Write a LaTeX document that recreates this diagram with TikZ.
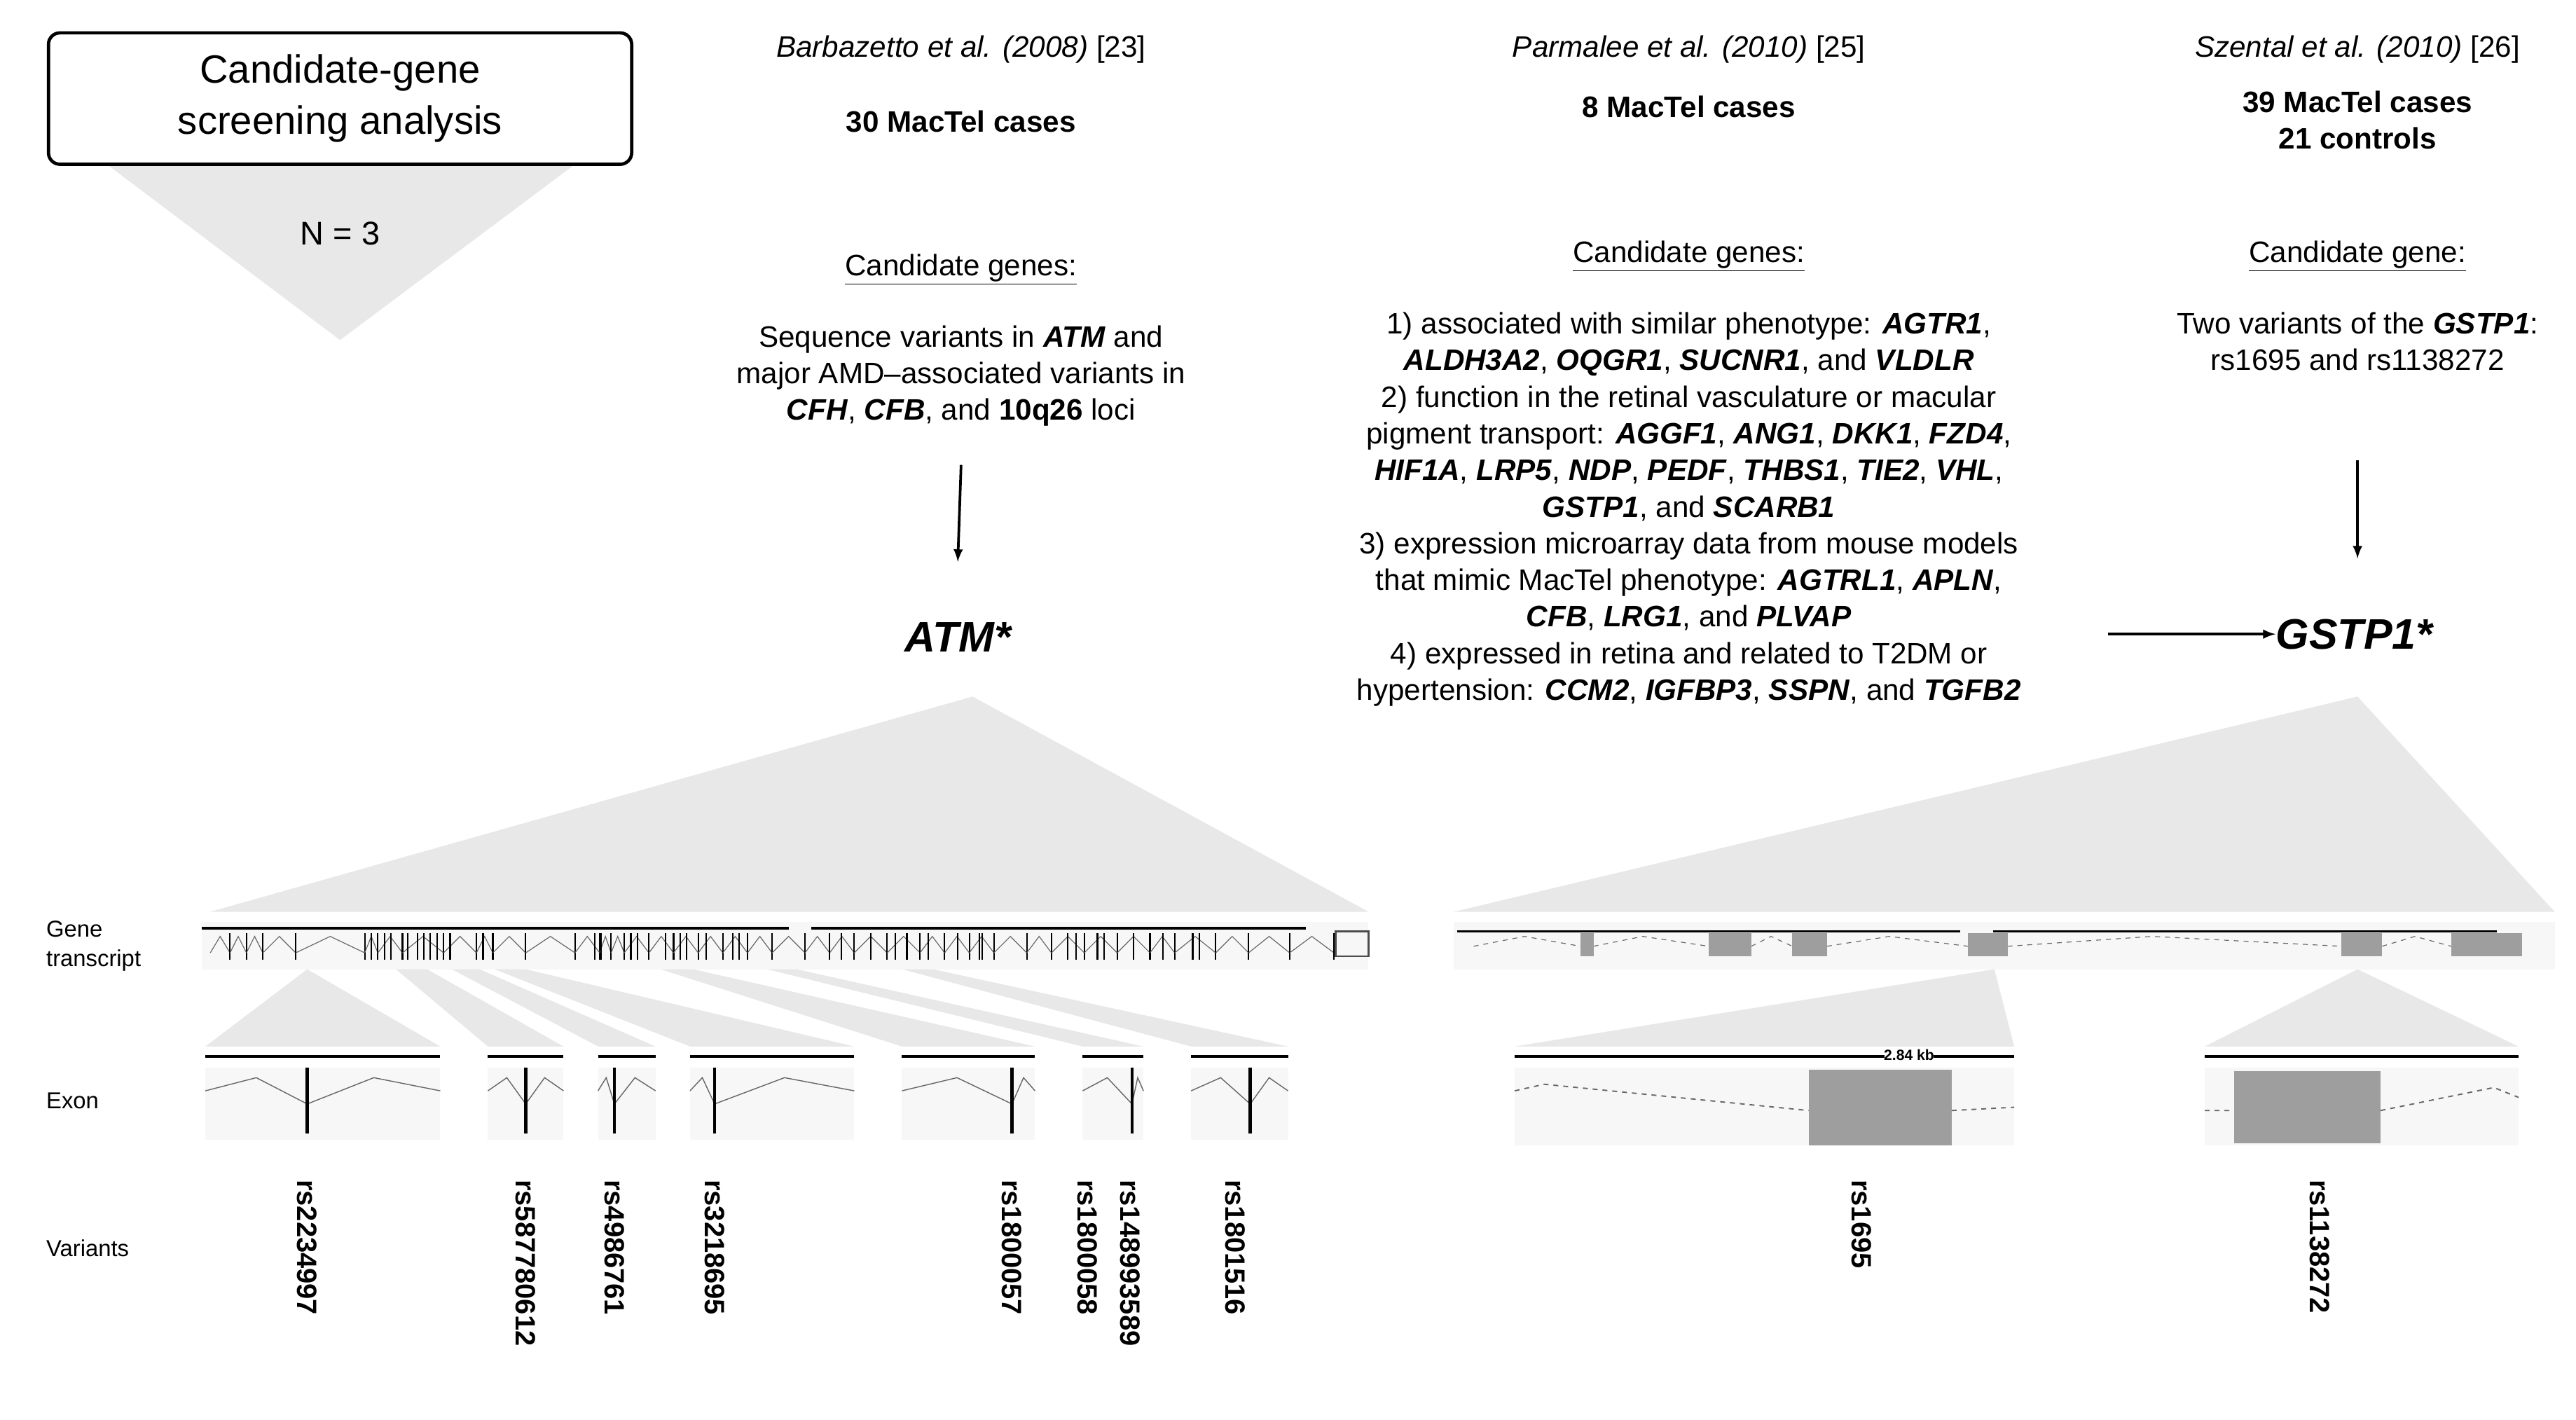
\documentclass[tikz,border=0pt]{standalone}
\usepackage{fontspec}
\setmainfont{Liberation Sans}
\begin{document}
\begin{tikzpicture}[x=1pt,y=-1pt,
  txt/.style={font=\fontsize{18}{22.3}\selectfont,align=center,inner sep=0},
  hdr/.style={font=\fontsize{18}{22}\selectfont\itshape,inner sep=0},
  gene/.style={font=\fontsize{26}{30}\selectfont\bfseries\itshape,inner sep=0},
  lab/.style={font=\fontsize{14}{18}\selectfont,align=left,anchor=west,inner sep=0},
  var/.style={font=\fontsize{17}{20}\selectfont\bfseries,rotate=-90,anchor=west,inner sep=0},
  fan/.style={fill=black!9,draw=none},
  panel/.style={fill=black!3,draw=none},
  exbox/.style={fill=black!38,draw=none},
  arr/.style={-latex,line width=1.6pt}]
\useasboundingbox (0,0) rectangle (1568,864);
% left header
\fill[black!9] (65,100) -- (350,100) -- (207,207) -- cycle;
\node[draw,line width=2pt,rounded corners=7pt,minimum width=355,minimum height=80,align=center,font=\fontsize{24}{31}\selectfont] (box) at (207,60) {Candidate-gene\\screening analysis};
\node[font=\fontsize{20}{24}\selectfont] (n) at (207,142) {N = 3};
% Barbazetto
\node[hdr] (b1) at (585,30) {Barbazetto et al. (2008)\upshape{} [23]};
\node[txt,font=\fontsize{18}{22}\selectfont\bfseries] (b2) at (585,74) {30 MacTel cases};
\node[txt] (b3) at (585,164) {\underline{Candidate genes:}};
\node[txt,anchor=north] (b4) at (585,198) {Sequence variants in \textbf{\textit{ATM}} and\\major AMD--associated variants in\\\textbf{\textit{CFH}}, \textbf{\textit{CFB}}, and \textbf{10q26} loci};
\node[gene] (atm) at (583,388) {ATM*};
\draw[arr] (585,283) -- (atm.north |- 0,342);
% Parmalee
\node[hdr] (p1) at (1028,30) {Parmalee et al. (2010)\upshape{} [25]};
\node[txt,font=\fontsize{18}{22}\selectfont\bfseries] (p2) at (1028,65) {8 MacTel cases};
\node[txt] (p3) at (1028,156) {\underline{Candidate genes:}};
\node[txt,anchor=north] (p4) at (1028,190) {1) associated with similar phenotype: \textbf{\textit{AGTR1}},\\
\textbf{\textit{ALDH3A2}}, \textbf{\textit{OQGR1}}, \textbf{\textit{SUCNR1}}, and \textbf{\textit{VLDLR}}\\
2) function in the retinal vasculature or macular\\
pigment transport: \textbf{\textit{AGGF1}}, \textbf{\textit{ANG1}}, \textbf{\textit{DKK1}}, \textbf{\textit{FZD4}},\\
\textbf{\textit{HIF1A}}, \textbf{\textit{LRP5}}, \textbf{\textit{NDP}}, \textbf{\textit{PEDF}}, \textbf{\textit{THBS1}}, \textbf{\textit{TIE2}}, \textbf{\textit{VHL}},\\
\textbf{\textit{GSTP1}}, and \textbf{\textit{SCARB1}}\\
3) expression microarray data from mouse models\\
that mimic MacTel phenotype: \textbf{\textit{AGTRL1}}, \textbf{\textit{APLN}},\\
\textbf{\textit{CFB}}, \textbf{\textit{LRG1}}, and \textbf{\textit{PLVAP}}\\
4) expressed in retina and related to T2DM or\\
hypertension: \textbf{\textit{CCM2}}, \textbf{\textit{IGFBP3}}, \textbf{\textit{SSPN}}, and \textbf{\textit{TGFB2}}};
% Szental
\node[hdr] (s1) at (1435,30) {Szental et al. (2010)\upshape{} [26]};
\node[txt,font=\fontsize{18}{22.5}\selectfont\bfseries,anchor=north] (s2) at (1435,55) {39 MacTel cases\\21 controls};
\node[txt] (s3) at (1435,156) {\underline{Candidate gene:}};
\node[txt,anchor=north] (s4) at (1435,190) {Two variants of the \textbf{\textit{GSTP1}}:\\rs1695 and rs1138272};
\node[gene] (gst) at (1433,386) {GSTP1*};
\coordinate (hs) at (1283,386);
\draw[arr] (1435,280) -- (1435,340);
\draw[arr] (hs) -- (gst.west);
% big fans
\fill[black!9] (592,424) -- (833,555) -- (128,555) -- cycle;
\fill[black!9] (1435,424) -- (1555,555) -- (885,555) -- cycle;
% labels
\node[lab] (gt) at (28,576) {Gene\\transcript};
\node[lab] (ex) at (28,670) {Exon};
\node[lab] (va) at (28,760) {Variants};
% ATM transcript
\fill[black!3] (123,561) rectangle (833,590);
\draw[line width=1.5pt] (123,565) -- (480,565) (494,565) -- (795,565);
\draw[line width=1pt,black!70] (813,567) rectangle (833,582);
\foreach \a/\b in {128/140,140/150,150/160,160/180,180/222,222/230,230/245,245/270,270/290,290/300,300/320,320/350,350/365,365/372,372/380,380/395,395/410,410/425,425/440,440/455,455/470,470/490,490/505,505/520,520/540,540/560,560/575,575/590,590/605,605/625,625/640,640/660,660/680,680/700,700/715,715/740,740/760,760/785,785/812} {
  \draw[black!60,line width=0.5pt] (\a,580) -- ({(\a+\b)/2},570) -- (\b,580);
  \draw[line width=0.9pt] (\b,568) -- (\b,584);}
\foreach \x in {226,234,238,248,254,258,262,266,274,294,362,366,384,388,405,414,418,430,446,450,505,512,530,545,552,565,583,596,598,650,655,668,672,690,708,726,730}
  \draw[line width=0.9pt] (\x,568) -- (\x,584);
% ATM small fans
\fill[black!9] (187,590) -- (268,637) -- (125,637) -- cycle;
\fill[black!9] (241,590) -- (260,590) -- (343,637) -- (297,637) -- cycle;
\fill[black!9] (275,590) -- (292,590) -- (399,637) -- (364,637) -- cycle;
\fill[black!9] (301,590) -- (320,590) -- (520,637) -- (420,637) -- cycle;
\fill[black!9] (402,590) -- (422,590) -- (630,637) -- (549,637) -- cycle;
\fill[black!9] (467,590) -- (485,590) -- (696,637) -- (659,637) -- cycle;
\fill[black!9] (549,590) -- (568,590) -- (784,637) -- (725,637) -- cycle;
% ATM exon panels
\foreach \l/\r/\c/\n in {125/268/187/e1,297/343/320/e2,364/399/374/e3,420/520/435/e4,549/630/616/e5,659/696/689/e6,725/784/761/e7} {
  \fill[black!3] (\l,650) rectangle (\r,694);
  \draw[line width=1.5pt] (\l,643) -- (\r,643);
  \draw[black!60,line width=0.6pt] (\l,664) -- ({(\l+\c)/2},656) -- (\c,672) -- ({(\c+\r)/2},656) -- (\r,664);
  \draw[line width=1.8pt] (\c,650) -- (\c,690);
  \coordinate (\n) at (\c,718);}
\node[var] (v1) at (187,718) {rs2234997};
\node[var] (v2) at (320,718) {rs587780612};
\node[var] (v3) at (374,718) {rs4986761};
\node[var] (v4) at (435,718) {rs3218695};
\node[var] (v5) at (616,718) {rs1800057};
\node[var] (v6) at (662,718) {rs1800058};
\node[var] (v7) at (688,718) {rs148993589};
\node[var] (v8) at (752,718) {rs1801516};
% GSTP1 transcript
\fill[black!3] (885,561) rectangle (1555,590);
\draw[line width=1.5pt] (887,567) -- (1193,567) (1213,567) -- (1520,567);
\draw[black!60,line width=0.5pt,dashed] (897,576) -- (928,570) -- (962,576) (970,576) -- (1000,570) -- (1040,576) (1066,576) -- (1078,570) -- (1091,576) (1112,576) -- (1150,570) -- (1198,576) (1222,576) -- (1310,570) -- (1425,576) (1450,576) -- (1470,570) -- (1492,576);
\foreach \l/\r in {962/970,1040/1066,1091/1112,1198/1222,1425/1450,1492/1535}
  \fill[black!38] (\l,568) rectangle (\r,582);
% GSTP1 small fans
\fill[black!9] (1214,590) -- (1226,637) -- (922,637) -- cycle;
\fill[black!9] (1435,590) -- (1533,637) -- (1342,637) -- cycle;
% GSTP1 exon panels
\fill[black!3] (922,650) rectangle (1226,697);
\draw[line width=1.5pt] (922,643) -- (1147,643) (1177,643) -- (1226,643);
\node[font=\fontsize{9}{10}\selectfont\bfseries,inner sep=0] (kb) at (1162,642) {2.84 kb};
\draw[black!60,line width=0.8pt,dashed] (922,664) -- (940,660) -- (1101,676) (1188,676) -- (1226,674);
\fill[black!38] (1101,651) rectangle (1188,697);
\fill[black!3] (1342,650) rectangle (1533,697);
\draw[line width=2pt] (1342,643) -- (1533,643);
\draw[black!60,line width=0.8pt,dashed] (1342,676) -- (1360,676) (1449,676) -- (1518,662) -- (1533,668);
\fill[black!38] (1360,652) rectangle (1449,696);
\node[var] (v9) at (1133,718) {rs1695};
\node[var] (v10) at (1412,718) {rs1138272};
\end{tikzpicture}
\end{document}
